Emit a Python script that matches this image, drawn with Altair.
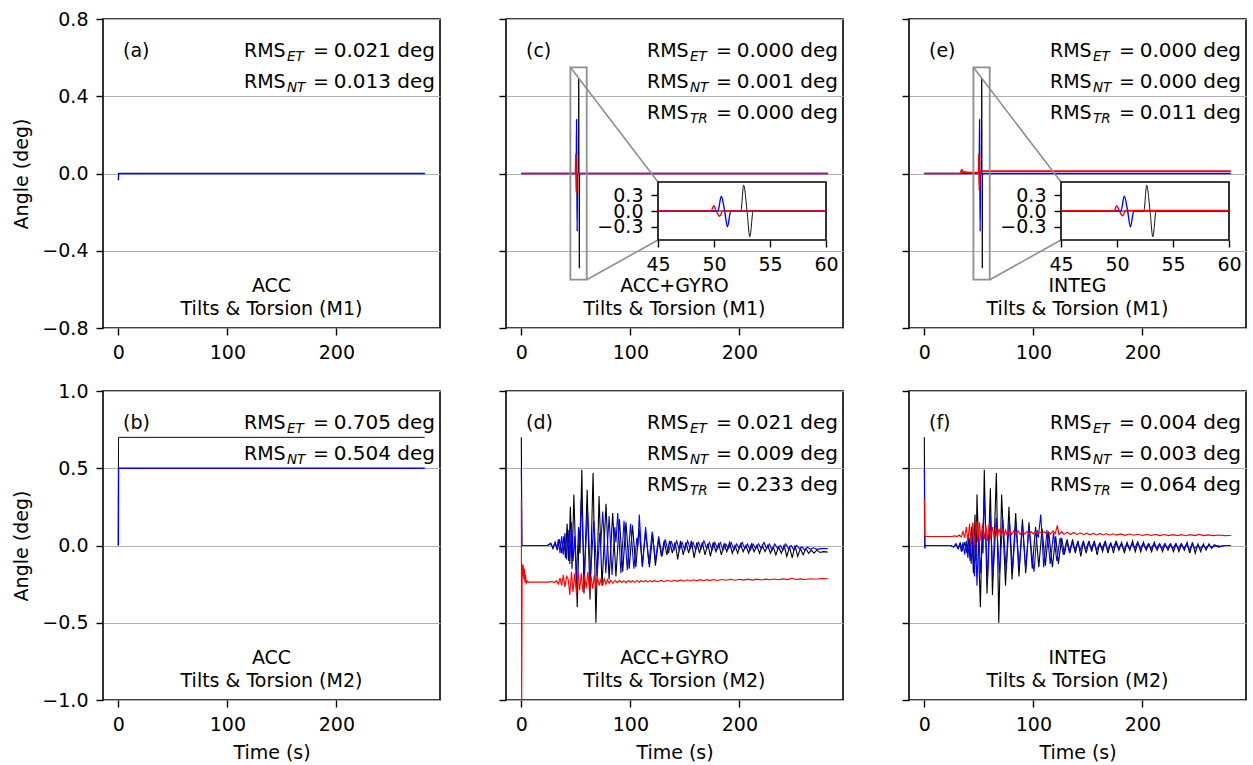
import altair as alt
import pandas as pd

# ---------------- values ----------------
X_TICKS = [0, 100, 200]
Y_TICKS_M1 = [-0.8, -0.4, 0.0, 0.4, 0.8]
Y_TICKS_M2 = [-1.0, -0.5, 0.0, 0.5, 1.0]
INSET_T = [45, 60]
INSET_Y = [-0.55, 0.55]
INSET_X_TICKS = [45, 50, 55, 60]
INSET_Y_TICKS = [-0.3, 0.0, 0.3]

# (a) ACC, M1
A_ET = [(0, 0.0), (281, 0.0)]
A_NT = [(0, -0.035), (0.3, 0.0), (281, 0.0)]
# (b) ACC, M2
B_ET = [(0, 0.0), (0.2, 0.70), (281, 0.70)]
B_NT = [(0, 0.0), (0.2, 0.50), (281, 0.50)]
# (c) ACC+GYRO, M1
C_ET = [(0, 0), (45, 0), (52.4, 0), (52.65, 0.49), (52.95, 0), (53.2, -0.49), (53.5, 0), (60, 0), (281, 0)]
C_NT = [(0, 0), (45, 0), (50.35, 0), (50.65, 0.28), (50.95, 0), (51.2, -0.30), (51.5, 0), (60, 0), (281, 0)]
C_TR = [(0, 0), (45, 0), (49.75, 0), (49.97, 0.10), (50.2, 0), (50.5, -0.10), (50.78, 0), (60, 0), (281, 0)]
# (e) INTEG, M1
E_ET = [(0, 0), (45, 0), (52.4, 0), (52.65, 0.49), (52.95, 0), (53.2, -0.49), (53.5, 0), (60, 0), (281, 0)]
E_NT = [(0, 0), (45, 0), (50.35, 0), (50.65, 0.28), (50.95, 0), (51.2, -0.30), (51.5, 0), (60, 0), (281, 0)]
E_TR = [(0, 0), (33, 0), (34.3, 0.02), (35.5, 0.004), (37, 0.008), (40, 0.005), (45, 0.005), (49.75, 0.005),
        (49.97, 0.10), (50.2, 0.005), (50.5, -0.09), (50.78, 0.012), (60, 0.012), (281, 0.012)]

# (d) ACC+GYRO, M2
D_ET = [(0, 0.70), (0.5, 0.0), (24, 0.0), (27, 0.015), (29, -0.02), (31, 0.02), (33, -0.03), (35, 0.04), (37, -0.05), (39, 0.06),
        (40.5, -0.08), (42, 0.14), (43.5, -0.10), (45, 0.25), (46.5, -0.15), (48.2, 0.33), (51.3, -0.40), (53, 0.10), (53.8, -0.05), (55.5, 0.49),
        (57.5, -0.31), (60.4, 0.36), (63, -0.35), (65.8, 0.47), (68.4, -0.50), (71.3, 0.32), (74, -0.26), (77.7, 0.27), (80.5, -0.22), (83.8, 0.21),
        (86.8, -0.20), (90, 0.17), (93, -0.17), (96, 0.15), (99, -0.15), (102, 0.13), (105, -0.14), (108, 0.11), (111, -0.13), (114, 0.09),
        (117.5, -0.14), (120.5, 0.07), (123, -0.13), (126, 0.04), (128.5, -0.07), (131, 0.03), (133.5, -0.06), (136, 0.03), (138.5, -0.05), (141, 0.02),
        (143.5, -0.09), (146, 0.03), (148.5, -0.06), (151, 0.02), (153.5, -0.05), (156, 0.03), (158.5, -0.08), (161, 0.02), (163.5, -0.05), (166, 0.02),
        (168.5, -0.06), (171, 0.01), (173.5, -0.07), (176, 0.02), (178.5, -0.04), (181, 0.01), (183.5, -0.06), (186, 0.01), (188.5, -0.04), (191, 0.02),
        (193.5, -0.05), (196, 0.0), (198.5, -0.05), (201, 0.01), (203.5, -0.04), (206, 0.0), (208.5, -0.05), (211, 0.01), (213.5, -0.04), (216, 0.0),
        (218.5, -0.05), (221, 0.0), (223.5, -0.04), (226, 0.0), (228.5, -0.05), (231, -0.01), (233.5, -0.06), (236, -0.01), (238.5, -0.05), (241, 0.0),
        (243.5, -0.07), (246, -0.01), (248.5, -0.08), (251, 0.0), (253.5, -0.07), (256, -0.02), (258.5, -0.06), (261, -0.02), (263.5, -0.05), (266, -0.03),
        (268.5, -0.05), (271, -0.03), (274, -0.045), (277, -0.04), (281, -0.043)]
D_NT = [(0, 0.50), (0.5, 0.0), (24, 0.0), (27, 0.01), (29, -0.015), (31, 0.02), (32.5, -0.02), (34, 0.04), (35.5, -0.05), (37, 0.06),
        (38.5, -0.06), (40, 0.08), (41.5, -0.09), (43, 0.10), (44.5, -0.12), (46, 0.15), (47.5, -0.10), (49, 0.06), (50.5, -0.22), (52.5, 0.12),
        (53.5, 0.0), (54.9, 0.30), (57.8, -0.18), (60.8, 0.22), (63.5, -0.20), (66.5, 0.16), (69.5, -0.20), (72, 0.08), (72.8, 0.0), (74.7, 0.22),
        (77.5, -0.18), (80.5, 0.19), (83.2, -0.19), (85.8, 0.12), (86.8, 0.02), (88.4, 0.21), (91.3, -0.18), (94.2, 0.16), (97.2, -0.16), (100.2, 0.14),
        (103.2, -0.15), (106, 0.05), (107, 0.0), (108.2, 0.20), (111, -0.14), (114, 0.12), (117, -0.12), (120, 0.09), (123, -0.10), (126, 0.06),
        (129, -0.07), (132, 0.04), (135, -0.05), (137.5, 0.03), (140, -0.03), (142.5, 0.03), (145, -0.03), (147.5, 0.02), (150, -0.03), (152.5, 0.03),
        (155, -0.02), (157.5, 0.02), (160, -0.03), (162.5, 0.02), (165, -0.02), (167.5, 0.03), (170, -0.02), (172.5, 0.02), (175, -0.03), (177.5, 0.02),
        (180, -0.02), (182.5, 0.02), (185, -0.03), (187.5, 0.01), (190, -0.02), (192.5, 0.02), (195, -0.03), (197.5, 0.01), (200, -0.02), (202.5, 0.02),
        (205, -0.02), (207.5, 0.01), (210, -0.03), (212.5, 0.01), (215, -0.02), (217.5, 0.01), (220, -0.02), (222.5, 0.02), (225, -0.02), (227.5, 0.01),
        (230, -0.03), (232.5, 0.01), (235, -0.02), (237.5, 0.0), (240, -0.03), (242.5, 0.01), (245, -0.02), (247.5, 0.0), (250, -0.03), (252.5, 0.0),
        (255, -0.02), (257.5, -0.01), (260, -0.03), (262.5, -0.01), (265, -0.025), (268, -0.015), (271, -0.025), (275, -0.02), (281, -0.02)]
D_TR = [(0, 0.30), (0.3, -1.10), (0.8, -0.12), (1.3, -0.20), (1.8, -0.13), (2.3, -0.22), (2.8, -0.15), (3.3, -0.24), (3.8, -0.19), (4.5, -0.245),
        (5.5, -0.23), (6.5, -0.237), (25, -0.237), (28, -0.232), (30, -0.242), (32, -0.228), (34, -0.25), (35.5, -0.21), (37, -0.26), (38.5, -0.19),
        (40, -0.27), (41.5, -0.20), (43, -0.22), (44.5, -0.32), (46, -0.17), (47.5, -0.30), (49, -0.18), (50.5, -0.31), (52, -0.17), (53.5, -0.29),
        (55, -0.18), (56.5, -0.30), (58, -0.19), (59.5, -0.28), (61, -0.17), (62.5, -0.30), (64, -0.20), (65.5, -0.28), (67, -0.19), (68.5, -0.27),
        (70, -0.21), (71.5, -0.26), (73, -0.22), (74.5, -0.26), (76, -0.215), (77.5, -0.25), (79, -0.22), (80.5, -0.245), (82, -0.225), (84, -0.245),
        (86, -0.225), (88, -0.24), (90, -0.225), (92, -0.24), (94, -0.228), (96, -0.242), (98, -0.226), (100, -0.238), (102, -0.228), (104, -0.24),
        (106, -0.226), (108, -0.238), (110, -0.228), (112, -0.236), (114, -0.226), (116, -0.237), (118, -0.227), (120, -0.235), (122, -0.226), (125, -0.236),
        (128, -0.226), (131, -0.234), (134, -0.225), (137, -0.233), (140, -0.225), (143, -0.232), (146, -0.223), (149, -0.231), (152, -0.222), (155, -0.23),
        (158, -0.222), (161, -0.229), (164, -0.221), (167, -0.228), (170, -0.221), (173, -0.227), (176, -0.22), (180, -0.226), (184, -0.22), (188, -0.225),
        (192, -0.219), (196, -0.225), (200, -0.219), (204, -0.224), (208, -0.218), (212, -0.224), (216, -0.218), (220, -0.223), (224, -0.218), (228, -0.222),
        (232, -0.217), (236, -0.222), (240, -0.216), (244, -0.221), (248, -0.212), (252, -0.22), (256, -0.216), (260, -0.22), (265, -0.215), (270, -0.218),
        (275, -0.214), (281, -0.215)]

# (f) INTEG, M2
F_ET = [(0, 0.70), (0.5, 0.0), (24, 0.0), (27, -0.01), (29, 0.01), (31, -0.02), (33, 0.015), (35, -0.03), (37, 0.02), (39, -0.05),
        (40.5, 0.05), (42, -0.10), (43.5, 0.12), (45, -0.18), (46.5, 0.20), (47.5, -0.10), (48.3, 0.33), (51.4, -0.40), (53, 0.10), (53.8, -0.05),
        (55, 0.49), (57.5, -0.31), (60.6, 0.37), (62.5, -0.32), (66.1, 0.47), (68.3, -0.50), (70.9, 0.33), (74.5, -0.26), (77.6, 0.25), (80.5, -0.22),
        (83.8, 0.21), (86.8, -0.20), (90, 0.17), (93, -0.18), (96, 0.15), (99, -0.15), (102, 0.12), (105, -0.14), (108, 0.11), (111, -0.13),
        (114, 0.09), (117.5, -0.14), (120.5, 0.06), (123, -0.12), (126, 0.05), (128.5, -0.06), (131, 0.04), (133.5, -0.05), (136, 0.04), (138.5, -0.05),
        (141, 0.03), (143.5, -0.07), (146, 0.03), (148.5, -0.05), (151, 0.03), (153.5, -0.04), (156, 0.03), (158.5, -0.06), (161, 0.02), (163.5, -0.04),
        (166, 0.03), (168.5, -0.05), (171, 0.02), (173.5, -0.05), (176, 0.03), (178.5, -0.03), (181, 0.02), (183.5, -0.05), (186, 0.02), (188.5, -0.03),
        (191, 0.03), (193.5, -0.04), (196, 0.02), (198.5, -0.04), (201, 0.02), (203.5, -0.03), (206, 0.01), (208.5, -0.04), (211, 0.02), (213.5, -0.03),
        (216, 0.01), (218.5, -0.04), (221, 0.01), (223.5, -0.03), (226, 0.01), (228.5, -0.04), (231, 0.01), (233.5, -0.04), (236, 0.01), (238.5, -0.03),
        (241, 0.02), (243.5, -0.05), (246, 0.02), (248.5, -0.05), (251, 0.01), (253.5, -0.04), (256, 0.01), (258.5, -0.03), (261, 0.01), (263.5, -0.02),
        (266, 0.005), (270, -0.01), (275, 0.0), (281, 0.0)]
F_NT = [(0, 0.50), (0.4, -0.02), (1.5, 0.0), (24, 0.0), (27, -0.01), (29, 0.01), (31, -0.02), (32.5, 0.01), (34, -0.04), (35.5, 0.02),
        (37, -0.06), (38.5, 0.03), (40, -0.08), (41.5, 0.05), (43, -0.12), (44.5, 0.08), (46, -0.20), (47, 0.05), (48.3, -0.26), (50, 0.10),
        (51.5, -0.18), (53.5, 0.05), (55, 0.31), (58, -0.22), (60.5, 0.20), (63, -0.20), (66, 0.18), (69, -0.18), (72, 0.17), (75, -0.16),
        (78, 0.16), (81, -0.15), (84, 0.15), (87, -0.14), (90, 0.13), (93, -0.15), (96, 0.12), (98.5, -0.05), (100.6, -0.17), (103.5, 0.10),
        (104.5, 0.05), (106.8, 0.20), (109.5, -0.14), (112.5, 0.10), (115.5, -0.12), (118.5, 0.08), (121.5, -0.10), (124.5, 0.05), (127.5, -0.06), (130.5, 0.03),
        (133, -0.04), (135.5, 0.02), (138, -0.03), (140.5, 0.02), (143, -0.03), (145.5, 0.02), (148, -0.03), (150.5, 0.02), (153, -0.02), (155.5, 0.02),
        (158, -0.03), (160.5, 0.01), (163, -0.02), (165.5, 0.02), (168, -0.03), (170.5, 0.01), (173, -0.02), (175.5, 0.02), (178, -0.02), (180.5, 0.01),
        (183, -0.03), (185.5, 0.01), (188, -0.02), (190.5, 0.01), (193, -0.02), (195.5, 0.02), (198, -0.02), (200.5, 0.01), (203, -0.02), (205.5, 0.01),
        (208, -0.02), (210.5, 0.01), (213, -0.02), (215.5, 0.01), (218, -0.02), (220.5, 0.01), (223, -0.02), (225.5, 0.01), (228, -0.02), (230.5, 0.01),
        (233, -0.02), (235.5, 0.01), (238, -0.02), (240.5, 0.01), (243, -0.03), (245.5, 0.01), (248, -0.02), (250.5, 0.0), (253, -0.02), (255.5, 0.0),
        (258, -0.015), (261, 0.0), (264, -0.01), (268, 0.0), (272, -0.005), (276, 0.0), (281, 0.0)]
F_TR = [(0, 0.30), (0.3, 0.058), (25, 0.058), (28, 0.062), (30, 0.058), (32, 0.068), (34, 0.055), (35.5, 0.09), (37, 0.05), (38.5, 0.12),
        (40, 0.03), (41.5, 0.14), (43, 0.02), (44.5, 0.15), (46, 0.0), (47.5, 0.16), (49, 0.02), (50.5, 0.15), (52, 0.03), (53.5, 0.14),
        (55, 0.04), (56.5, 0.13), (58, 0.03), (59.5, 0.14), (61, 0.04), (62.5, 0.12), (64, 0.05), (65.5, 0.12), (67, 0.05), (68.5, 0.11),
        (70, 0.06), (71.5, 0.11), (73, 0.06), (74.5, 0.10), (76, 0.065), (78, 0.10), (80, 0.07), (82, 0.095), (84, 0.07), (86, 0.095),
        (88, 0.072), (90, 0.092), (92, 0.073), (94, 0.09), (96, 0.074), (98, 0.09), (100, 0.075), (102, 0.09), (104, 0.075), (106, 0.088),
        (108, 0.074), (110, 0.09), (112, 0.075), (114, 0.088), (116, 0.074), (118, 0.095), (120, 0.075), (122, 0.13), (123.5, 0.07), (126, 0.09),
        (128, 0.072), (131, 0.086), (134, 0.071), (137, 0.084), (140, 0.07), (143, 0.082), (146, 0.07), (149, 0.08), (152, 0.069), (155, 0.079),
        (158, 0.068), (161, 0.078), (164, 0.068), (167, 0.077), (170, 0.067), (173, 0.076), (176, 0.067), (180, 0.075), (184, 0.066), (188, 0.074),
        (192, 0.066), (196, 0.073), (200, 0.065), (204, 0.072), (208, 0.065), (212, 0.072), (216, 0.064), (220, 0.071), (224, 0.064), (228, 0.07),
        (232, 0.064), (236, 0.07), (240, 0.063), (244, 0.07), (248, 0.064), (252, 0.072), (256, 0.064), (260, 0.069), (265, 0.064), (270, 0.068),
        (275, 0.064), (281, 0.065)]

LETTERS = {"a": "(a)", "b": "(b)", "c": "(c)", "d": "(d)", "e": "(e)", "f": "(f)"}
RMS = {
    "a": [("ET", "0.021"), ("NT", "0.013")],
    "b": [("ET", "0.705"), ("NT", "0.504")],
    "c": [("ET", "0.000"), ("NT", "0.001"), ("TR", "0.000")],
    "d": [("ET", "0.021"), ("NT", "0.009"), ("TR", "0.233")],
    "e": [("ET", "0.000"), ("NT", "0.000"), ("TR", "0.011")],
    "f": [("ET", "0.004"), ("NT", "0.003"), ("TR", "0.064")],
}
CAPTIONS = {
    "a": ["ACC", "Tilts & Torsion (M1)"],
    "b": ["ACC", "Tilts & Torsion (M2)"],
    "c": ["ACC+GYRO", "Tilts & Torsion (M1)"],
    "d": ["ACC+GYRO", "Tilts & Torsion (M2)"],
    "e": ["INTEG", "Tilts & Torsion (M1)"],
    "f": ["INTEG", "Tilts & Torsion (M2)"],
}
SERIES = {
    "a": [A_ET, A_NT, None], "b": [B_ET, B_NT, None],
    "c": [C_ET, C_NT, C_TR], "d": [D_ET, D_NT, D_TR],
    "e": [E_ET, E_NT, E_TR], "f": [F_ET, F_NT, F_TR],
}

# ---------------- styling / layout ----------------
FONT = "DejaVu Sans"
COLORS = ["#000000", "#0000ff", "#ff0000"]
WIDTHS = [0.95, 1.35, 1.7]
W, H = 337, 309
X_DOMAIN = [-14.05, 295.05]
IN_L, IN_R, IN_T, IN_B = 152, 320, 163, 221
DUMMY = pd.DataFrame({"k": [0]})


def to_df(pairs):
    df = pd.DataFrame(pairs, columns=["t", "y"])
    df["i"] = range(len(df))
    return df


def txt(s, x, y, align="left", size=19, style="normal"):
    return alt.Chart(DUMMY).mark_text(
        text=s, align=align, baseline="alphabetic", font=FONT, fontSize=size,
        fontStyle=style, color="black"
    ).encode(x=alt.value(x), y=alt.value(y))


def panel(key, row, col):
    ydom = [-0.8, 0.8] if row == 0 else [-1.0, 1.0]
    yt = Y_TICKS_M1 if row == 0 else Y_TICKS_M2
    xs = alt.Scale(domain=X_DOMAIN, nice=False, zero=False)
    ys = alt.Scale(domain=ydom, nice=False, zero=False)
    xaxis = alt.Axis(values=X_TICKS, format="d", grid=False,
                     title="Time (s)" if row == 1 else None,
                     labelPadding=8, titlePadding=9, labelFlush=False, labelOverlap=False)
    if col == 0:
        yaxis = alt.Axis(values=yt, format=".1f", grid=True, title="Angle (deg)",
                         labelPadding=8, titlePadding=10, labelFlush=False, labelOverlap=False)
    else:
        yaxis = alt.Axis(values=yt, grid=True, labels=False, title=None)
    inset = key in ("c", "e")
    interp = "monotone" if inset else "linear"

    main = []
    for pairs, color, sw in zip(SERIES[key], COLORS, WIDTHS):
        if pairs is None:
            continue
        if key in ("d", "f"):
            sw = 1.1
        main.append(
            alt.Chart(to_df(pairs)).mark_line(color=color, strokeWidth=sw, clip=True, interpolate=interp)
            .encode(x=alt.X("t:Q", scale=xs, axis=xaxis, title="Time (s)" if row == 1 else None),
                    y=alt.Y("y:Q", scale=ys, axis=yaxis, title="Angle (deg)" if col == 0 else None),
                    order="i:Q")
        )

    if inset:
        gray = "#8f8f8f"
        main.append(
            alt.Chart(DUMMY).mark_rect(fillOpacity=0, stroke=gray, strokeWidth=1.8).encode(
                x=alt.XDatum(INSET_T[0]), x2=alt.X2Datum(INSET_T[1]),
                y=alt.YDatum(INSET_Y[0]), y2=alt.Y2Datum(INSET_Y[1]))
        )
        main.append(
            alt.Chart(DUMMY).mark_rule(color=gray, strokeWidth=1.6).encode(
                x=alt.XDatum(INSET_T[0]), y=alt.YDatum(INSET_Y[1]),
                x2=alt.value(IN_L), y2=alt.value(IN_T))
        )
        main.append(
            alt.Chart(DUMMY).mark_rule(color=gray, strokeWidth=1.6).encode(
                x=alt.XDatum(INSET_T[1]), y=alt.YDatum(INSET_Y[0]),
                x2=alt.value(IN_L), y2=alt.value(IN_B))
        )

    # texts
    main.append(txt(LETTERS[key], 20, 37.5))
    for k, (sub, val) in enumerate(RMS[key]):
        yb = 37.5 + 31 * k
        main.append(txt("RMS", 141, yb))
        main.append(txt(sub, 184, yb + 4, size=13.5, style="italic"))
        main.append(txt("=", 210, yb))
        main.append(txt(val + " deg", 332, yb, align="right", size=20))
    cap = CAPTIONS[key]
    main.append(txt(cap[0], W / 2, 273, align="center"))
    main.append(txt(cap[1], W / 2, 296, align="center"))

    main_layer = alt.layer(*main)
    if not inset:
        return main_layer.properties(width=W, height=H)

    ixs = alt.Scale(domain=INSET_T, range=[IN_L, IN_R], nice=False, zero=False)
    iys = alt.Scale(domain=INSET_Y, range=[IN_B, IN_T], nice=False, zero=False)
    ixaxis = alt.Axis(orient="bottom", offset=-(H - IN_B), values=INSET_X_TICKS, format="d", grid=False,
                      title=None, labelPadding=8, labelFlush=False, labelOverlap=False)
    iyaxis = alt.Axis(orient="left", offset=-IN_L, values=INSET_Y_TICKS, format=".1f", grid=False,
                      title=None, labelPadding=8, labelFlush=False, labelOverlap=False)
    ins = [
        alt.Chart(DUMMY).mark_rect(fill="white", stroke="black", strokeWidth=1.6).encode(
            x=alt.XDatum(INSET_T[0], scale=ixs, axis=ixaxis), x2=alt.X2Datum(INSET_T[1]),
            y=alt.YDatum(INSET_Y[0], scale=iys, axis=iyaxis), y2=alt.Y2Datum(INSET_Y[1]))
    ]
    for pairs, color, sw in zip(SERIES[key], COLORS, WIDTHS):
        ins.append(
            alt.Chart(to_df(pairs)).transform_filter(
                (alt.datum.t >= INSET_T[0]) & (alt.datum.t <= INSET_T[1])
            ).mark_line(color=color, strokeWidth=min(sw, 1.4), interpolate="monotone")
            .encode(x=alt.X("t:Q", scale=ixs, axis=ixaxis, title=None),
                    y=alt.Y("y:Q", scale=iys, axis=iyaxis, title=None),
                    order="i:Q")
        )
    inset_layer = alt.layer(*ins)
    return alt.layer(main_layer, inset_layer).resolve_scale(
        x="independent", y="independent").properties(width=W, height=H)


chart = alt.concat(
    panel("a", 0, 0), panel("c", 0, 1), panel("e", 0, 2),
    panel("b", 1, 0), panel("d", 1, 1), panel("f", 1, 2),
    columns=3, spacing={"row": 63, "column": 66}, bounds="flush"
).properties(
    padding={"left": 12, "top": 9, "right": 0, "bottom": 0}
).configure_view(stroke="black", strokeWidth=1.6).configure_axis(
    labelFont=FONT, titleFont=FONT, labelFontSize=19, titleFontSize=19, titleFontWeight="normal",
    labelColor="black", titleColor="black", tickColor="black", tickSize=7, tickWidth=1.4,
    domain=False, gridColor="#b0b0b0", gridWidth=1
)

chart.save("out.html", embed_options={"renderer": "svg", "actions": False})
